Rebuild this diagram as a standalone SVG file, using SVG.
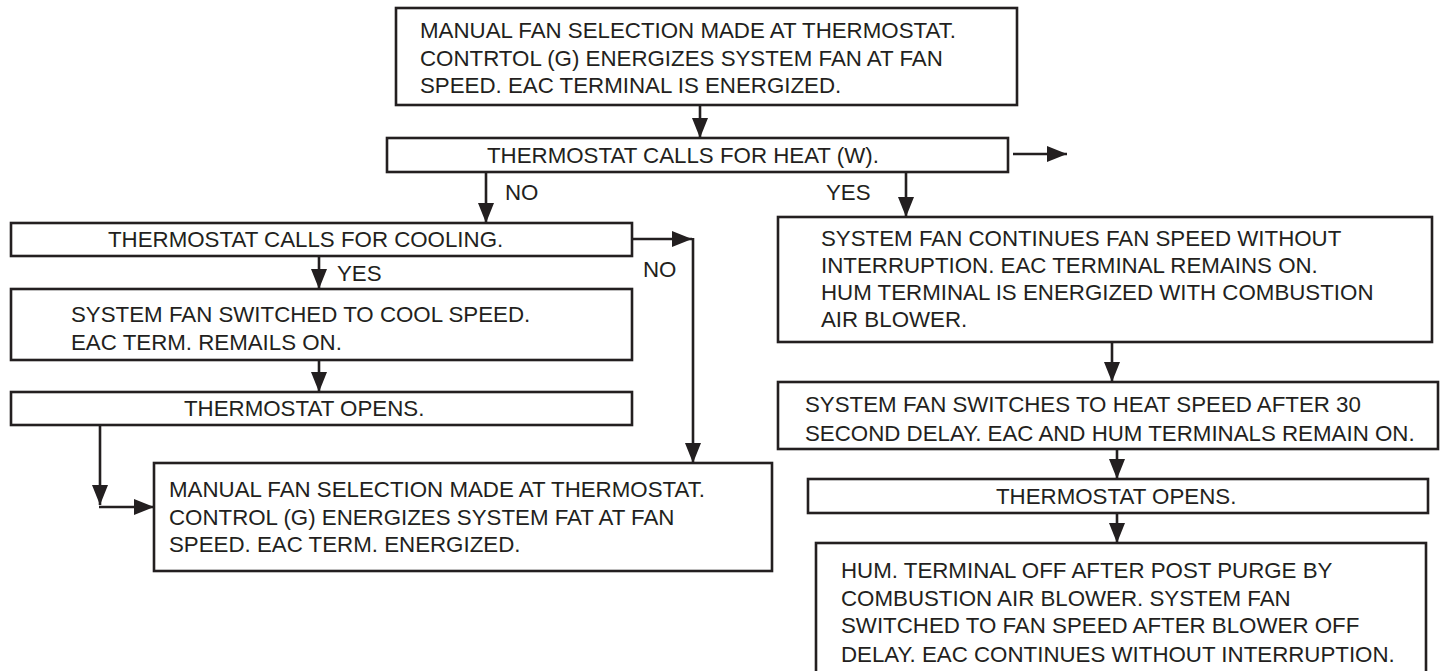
<svg xmlns="http://www.w3.org/2000/svg" width="1443" height="671" viewBox="0 0 1443 671">
<style>
.box{fill:#fff;stroke:#231f20;stroke-width:2.6}
.t{font-family:"Liberation Sans",Arial,sans-serif;font-size:22.3px;fill:#231f20}
.c{fill:none;stroke:#231f20;stroke-width:2.6}
</style>
<defs>
<marker id="ah" markerUnits="userSpaceOnUse" markerWidth="20" markerHeight="16" refX="20" refY="8" orient="auto">
<path d="M0,0 L20,8 L0,16 z" fill="#231f20"/>
</marker>
</defs>
<rect width="1443" height="671" fill="#fff"/>
<g id="connectors">
<line class="c" x1="700" y1="105" x2="700" y2="138" marker-end="url(#ah)"/>
<line class="c" x1="1013" y1="154" x2="1067" y2="154" marker-end="url(#ah)"/>
<line class="c" x1="486" y1="172" x2="486" y2="223" marker-end="url(#ah)"/>
<line class="c" x1="906" y1="172" x2="906" y2="217" marker-end="url(#ah)"/>
<line class="c" x1="632" y1="239" x2="692" y2="239" marker-end="url(#ah)"/>
<line class="c" x1="693" y1="238" x2="693" y2="463" marker-end="url(#ah)"/>
<line class="c" x1="319" y1="256" x2="319" y2="289" marker-end="url(#ah)"/>
<line class="c" x1="319" y1="360" x2="319" y2="392" marker-end="url(#ah)"/>
<line class="c" x1="100" y1="425" x2="100" y2="505" marker-end="url(#ah)"/>
<line class="c" x1="99" y1="507" x2="154" y2="507" marker-end="url(#ah)"/>
<line class="c" x1="1112" y1="342" x2="1112" y2="382" marker-end="url(#ah)"/>
<line class="c" x1="1117" y1="449" x2="1117" y2="479" marker-end="url(#ah)"/>
<line class="c" x1="1117" y1="513" x2="1117" y2="543" marker-end="url(#ah)"/>
<text class="t" x="505" y="200">NO</text>
<text class="t" x="826" y="200">YES</text>
<text class="t" x="337" y="281">YES</text>
<text class="t" x="643" y="277">NO</text>
</g>
<g id="n1">
<rect class="box" x="396" y="8" width="621" height="97"/>
<text class="t" x="420" y="38">MANUAL FAN SELECTION MADE AT THERMOSTAT.</text>
<text class="t" x="420" y="66">CONTRTOL (G) ENERGIZES SYSTEM FAN AT FAN</text>
<text class="t" x="420" y="93">SPEED. EAC TERMINAL IS ENERGIZED.</text>
</g>
<g id="n2">
<rect class="box" x="387" y="138" width="621" height="34"/>
<text class="t" x="487" y="163">THERMOSTAT CALLS FOR HEAT (W).</text>
</g>
<g id="n3">
<rect class="box" x="11" y="223" width="621" height="33"/>
<text class="t" x="108" y="247">THERMOSTAT CALLS FOR COOLING.</text>
</g>
<g id="n4">
<rect class="box" x="11" y="289" width="621" height="71"/>
<text class="t" x="71" y="322">SYSTEM FAN SWITCHED TO COOL SPEED.</text>
<text class="t" x="71" y="350">EAC TERM. REMAILS ON.</text>
</g>
<g id="n5">
<rect class="box" x="11" y="392" width="621" height="33"/>
<text class="t" x="184" y="416">THERMOSTAT OPENS.</text>
</g>
<g id="n6">
<rect class="box" x="154" y="463" width="618" height="108"/>
<text class="t" x="169" y="497">MANUAL FAN SELECTION MADE AT THERMOSTAT.</text>
<text class="t" x="169" y="525">CONTROL (G) ENERGIZES SYSTEM FAT AT FAN</text>
<text class="t" x="169" y="552">SPEED. EAC TERM. ENERGIZED.</text>
</g>
<g id="n7">
<rect class="box" x="778" y="217" width="654" height="125"/>
<text class="t" x="821" y="246">SYSTEM FAN CONTINUES FAN SPEED WITHOUT</text>
<text class="t" x="821" y="273">INTERRUPTION. EAC TERMINAL REMAINS ON.</text>
<text class="t" x="821" y="300">HUM TERMINAL IS ENERGIZED WITH COMBUSTION</text>
<text class="t" x="821" y="327">AIR BLOWER.</text>
</g>
<g id="n8">
<rect class="box" x="778" y="382" width="660" height="67"/>
<text class="t" x="805" y="412">SYSTEM FAN SWITCHES TO HEAT SPEED AFTER 30</text>
<text class="t" x="805" y="441">SECOND DELAY. EAC AND HUM TERMINALS REMAIN ON.</text>
</g>
<g id="n9">
<rect class="box" x="808" y="479" width="620" height="34"/>
<text class="t" x="996" y="504">THERMOSTAT OPENS.</text>
</g>
<g id="n10">
<rect class="box" x="816" y="543" width="610" height="140"/>
<text class="t" x="841" y="578">HUM. TERMINAL OFF AFTER POST PURGE BY</text>
<text class="t" x="841" y="606">COMBUSTION AIR BLOWER. SYSTEM FAN</text>
<text class="t" x="841" y="633">SWITCHED TO FAN SPEED AFTER BLOWER OFF</text>
<text class="t" x="841" y="662">DELAY. EAC CONTINUES WITHOUT INTERRUPTION.</text>
</g>
</svg>
